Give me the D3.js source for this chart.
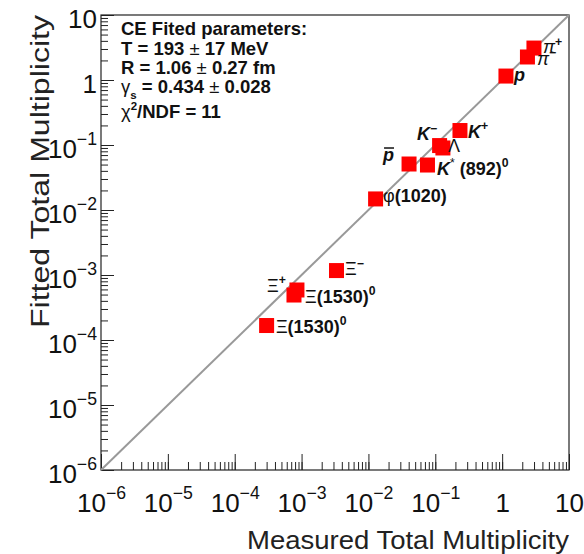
<!DOCTYPE html>
<html><head><meta charset="utf-8">
<script src="https://cdn.jsdelivr.net/npm/d3@7"></script>
<style>
body{margin:0;background:#fff}
svg{display:block}
text{font-family:"Liberation Sans",Arial,Helvetica,sans-serif;white-space:pre}
</style>
</head><body>
<svg id="c" width="584" height="554"></svg>
<script>
// ---------- data ----------
const particles = ["pi+","pi-","p","K+","K-","Lambda","K*(892)0","pbar","phi(1020)","Xi-","Xi+","Xi(1530)0","Xi(1530)0 bar"];
const measured  = [2.99, 2.39, 1.14, 0.234, 0.116, 0.130, 0.0764, 0.0405, 0.0128, 0.00333, 0.000853, 0.00077, 0.00030];
const fitted    = [3.10, 2.26, 1.15, 0.167, 0.098, 0.090, 0.0492, 0.0510, 0.0148, 0.00117, 0.000588, 0.000492, 0.000167];
const labelText = ["π^{+}","π^{−}","p","K^{+}","K^{−}","Λ","K^{*} (892)^{0}","p̄","φ(1020)","Ξ^{−}","Ξ^{+}","Ξ(1530)^{0}","Ξ(1530)^{0}"];
const tickValues = [1e-6,1e-5,1e-4,1e-3,1e-2,1e-1,1,10];
const tickLabels = ["10^{−6}","10^{−5}","10^{−4}","10^{−3}","10^{−2}","10^{−1}","1","10"];
const fitParams  = ["CE Fited parameters:","T = 193 ± 17 MeV","R = 1.06 ± 0.27 fm","γ_{s} = 0.434 ± 0.028","χ^{2}/NDF = 11"];
const xTitle = "Measured Total Multiplicity";
const yTitle = "Fitted Total Multiplicity";

// ---------- label placement (style) ----------
const labelDx = [9, 9.5, 8, 8, -2.5, 5, 9.5, -15, 7.5, 8.5, -11, 11, 9.3];
const labelDy = [5, 8, 5, 7.5, -5.5, 4, 10, -3, 3, 4.5, 2, 8, 7.5];
const labelAnchor = ["start","start","start","start","end","start","start","end","start","start","end","start","start"];

const svg = d3.select("#c");
const L=101, R=569, T=15, B=470;
const x = d3.scaleLog().domain([1e-6,10]).range([L,R]);
const y = d3.scaleLog().domain([1e-6,10]).range([B,T]);

const ITALIC = "Kpπ";
const THIN = "πΞφΛγχ±*";
function rich(sel, str, size, opts={}){
  const tokens=[]; let i=0;
  const isMark=(k)=> (str[k]==='^'||str[k]==='_') && str[k+1]==='{';
  while(i<str.length){
    if(isMark(i)){ const j=str.indexOf('}',i); tokens.push({t:str.slice(i+2,j),k:str[i]==='^'?'sup':'sub'}); i=j+1; }
    else { let j=i; while(j<str.length && !isMark(j)) j++; tokens.push({t:str.slice(i,j),k:'base'}); i=j; }
  }
  let shift=0;
  tokens.forEach(tk=>{
    const fs = tk.k==='base'? size : size*(opts.supScale||0.68);
    const target = tk.k==='sup'? -size*(opts.supShift||0.42) : tk.k==='sub'? size*0.3 : 0;
    const runs=[];
    for(const ch of tk.t){
      const st = (opts.italic!==false && ITALIC.includes(ch)?'i':'n') + (opts.bold && !THIN.includes(ch)?'b':'n');
      if(runs.length && runs[runs.length-1].st===st) runs[runs.length-1].t+=ch; else runs.push({t:ch,st});
    }
    runs.forEach((r,ri)=>{
      const ts=sel.append('tspan').text(r.t).attr('font-size',fs)
        .attr('font-style', r.st[0]==='i'?'italic':'normal')
        .attr('font-weight', r.st[1]==='b'?'bold':'normal');
      if(ri===0){ ts.attr('dy', target-shift); shift=target; }
    });
  });
}

// ---------- frame ----------
svg.append('rect').attr('x',L).attr('y',T).attr('width',R-L).attr('height',B-T)
  .attr('fill','none').attr('stroke','#222').attr('stroke-width',1.2);

// ---------- axes ----------
const gx = svg.append('g').attr('transform',`translate(0,${B})`);
gx.append('g').call(d3.axisBottom(x).tickValues(x.ticks()).tickSize(-8).tickSizeOuter(0).tickFormat(''));
const gxM = gx.append('g').call(d3.axisBottom(x).tickValues(tickValues).tickSize(-16).tickSizeOuter(0)
  .tickFormat((d,i)=>tickLabels[i]));
const gy = svg.append('g').attr('transform',`translate(${L},0)`);
gy.append('g').call(d3.axisLeft(y).tickValues(y.ticks()).tickSize(-7).tickSizeOuter(0).tickFormat(''));
const gyM = gy.append('g').call(d3.axisLeft(y).tickValues(tickValues).tickSize(-13).tickSizeOuter(0)
  .tickFormat((d,i)=>tickLabels[i]));
svg.selectAll('.domain').remove();
svg.selectAll('.tick line').attr('stroke','#222').attr('stroke-width',1);

gxM.selectAll('.tick text').each(function(d,i){
  const t=d3.select(this); t.text(null).attr('y',42).attr('dy',null).attr('fill','#111')
    .attr('font-size',null).attr('font-family',null).attr('text-anchor','middle');
  rich(t, tickLabels[i], 26, {italic:false, supShift:0.5});
});
gyM.selectAll('.tick text').each(function(d,i){
  const t=d3.select(this); t.text(null).attr('x',-4).attr('dy',null).attr('y',12).attr('fill','#111')
    .attr('font-size',null).attr('font-family',null).attr('text-anchor','end');
  rich(t, tickLabels[i], 26, {italic:false, supShift:0.5});
});

// ---------- diagonal ----------
svg.append('line').attr('x1',x(1e-6)).attr('y1',y(1e-6)).attr('x2',x(10)).attr('y2',y(10))
  .attr('stroke','#999').attr('stroke-width',2);

// ---------- markers ----------
const M=15;
svg.append('g').selectAll('rect').data(particles).join('rect')
  .attr('x',(d,i)=>x(measured[i])-M/2).attr('y',(d,i)=>y(fitted[i])-M/2)
  .attr('width',M).attr('height',M).attr('fill','#ff0000');

// ---------- labels ----------
const lg = svg.append('g');
particles.forEach((p,i)=>{
  const t = lg.append('text').attr('x',x(measured[i])+labelDx[i]).attr('y',y(fitted[i])+labelDy[i])
    .attr('text-anchor',labelAnchor[i]).attr('fill','#111');
  const s = labelText[i];
  if(s.includes('\u0304')){
    rich(t, s.replace('\u0304',''), 18, {bold:true});
    const bb=t.node().getBBox();
    lg.append('line').attr('x1',bb.x+2).attr('x2',bb.x+bb.width).attr('y1',y(fitted[i])+labelDy[i]-13)
      .attr('y2',y(fitted[i])+labelDy[i]-13).attr('stroke','#111').attr('stroke-width',1.5);
  } else rich(t, s, 18, {bold:true});
});

// ---------- fit parameters ----------
const lineY=[35,55,74,93,118];
fitParams.forEach((s,i)=>{
  const t=svg.append('text').attr('x',121).attr('y',lineY[i]).attr('fill','#111');
  rich(t, s, 18.5, {bold:true, italic:false, supScale:0.62});
});

// ---------- titles ----------
svg.append('text').attr('x',R).attr('y',549).attr('text-anchor','end')
  .attr('font-size',26).attr('fill','#222')
  .attr('textLength',322).attr('lengthAdjust','spacingAndGlyphs').text(xTitle);
svg.append('text').attr('transform',`translate(49,${T}) rotate(-90)`).attr('text-anchor','end')
  .attr('font-size',26).attr('fill','#222')
  .attr('textLength',313).attr('lengthAdjust','spacingAndGlyphs').text(yTitle);
</script>
</body></html>
